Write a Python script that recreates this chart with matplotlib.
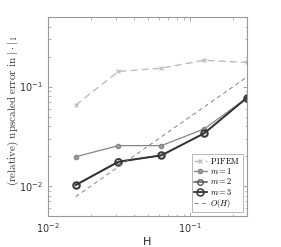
import matplotlib
matplotlib.use("Agg")
import matplotlib.pyplot as plt
import numpy as np

H = [1/64, 1/32, 1/16, 1/8, 1/4]
p1fem = [0.065, 0.142, 0.153, 0.184, 0.175]
m1 = [0.0197, 0.0255, 0.0255, 0.0375, 0.077]
m2 = [0.0103, 0.0177, 0.0204, 0.0340, 0.077]
m3 = [0.0102, 0.0175, 0.0203, 0.0338, 0.0775]
OH = [h / 2 for h in H]

plt.rcParams['mathtext.fontset'] = 'cm'
plt.rcParams['font.family'] = ['DejaVu Sans']

fig = plt.figure(figsize=(2.81, 2.47), dpi=100)
ax = fig.add_axes([0.171, 0.1255, 0.708, 0.8055])

ax.loglog(H, p1fem, linestyle=(0, (5, 3)), color='#bdbdbd', lw=1.0,
          marker='x', ms=3.5, mew=0.9, label=r'$\mathrm{P1FEM}$')
ax.loglog(H, m1, '-', color='#858585', lw=0.9, marker='o', ms=3,
          mfc='#a0a0a0', mec='#858585', label=r'$m=1$')
ax.loglog(H, m2, '-', color='#585858', lw=1.1, marker='o', ms=4,
          mfc='none', mec='#585858', mew=1.0, label=r'$m=2$')
ax.loglog(H, m3, '-', color='#353535', lw=1.3, marker='o', ms=5,
          mfc='none', mec='#353535', mew=1.1, label=r'$m=3$')
ax.loglog(H, OH, linestyle=(0, (5, 4)), color='#707070', lw=0.6,
          label=r'$O(H)$')

ax.set_xlim(0.01, 0.25)
ax.set_ylim(0.005, 0.5)

for s in ax.spines.values():
    s.set_color('#999999')
    s.set_linewidth(0.8)
ax.tick_params(which='both', direction='in', top=True, right=True,
               colors='#999999', labelcolor='#333333', labelsize=7)
ax.tick_params(which='major', length=3, width=0.6)
ax.tick_params(which='minor', length=1.8, width=0.5)

ax.set_xlabel('H', fontsize=8, color='#222222', labelpad=2)
ax.set_ylabel(r'$\mathrm{(relative)\ upscaled\ error\ in\ }|\cdot|_1$',
              fontsize=8, color='#333333')
ax.yaxis.set_label_coords(-0.135, 0.53)

leg = ax.legend(loc='lower right', fontsize=6, frameon=True, fancybox=False,
                edgecolor='#999999', handlelength=1.6, handletextpad=0.4,
                borderpad=0.25, labelspacing=0.02, borderaxespad=0.5)
leg.get_frame().set_linewidth(0.6)

fig.savefig('out.png', dpi=100)
